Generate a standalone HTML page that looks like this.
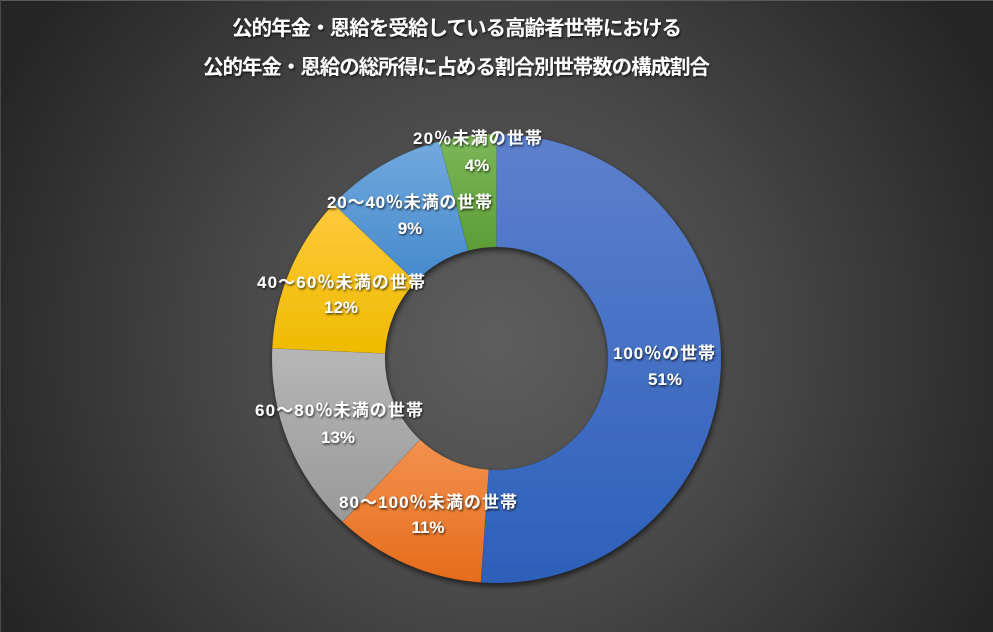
<!DOCTYPE html>
<html>
<head>
<meta charset="utf-8">
<style>
html,body{margin:0;padding:0;background:#262626;}
svg{display:block;}
</style>
</head>
<body>
<svg width="993" height="632" viewBox="0 0 993 632" xmlns="http://www.w3.org/2000/svg">
<defs>
  <radialGradient id="bg" cx="496" cy="340" r="560" gradientUnits="userSpaceOnUse">
    <stop offset="0" stop-color="#5e5e5e"/>
    <stop offset="0.45" stop-color="#494949"/>
    <stop offset="1" stop-color="#252525"/>
  </radialGradient>
  <linearGradient id="gBlue" x1="0" y1="0" x2="0" y2="1">
    <stop offset="0" stop-color="#5d80cd"/>
    <stop offset="1" stop-color="#2d60ba"/>
  </linearGradient>
  <linearGradient id="gOrange" x1="0" y1="0" x2="0" y2="1">
    <stop offset="0" stop-color="#f3914f"/>
    <stop offset="1" stop-color="#e56c1b"/>
  </linearGradient>
  <linearGradient id="gGray" x1="0" y1="0" x2="0" y2="1">
    <stop offset="0" stop-color="#b6b6b6"/>
    <stop offset="1" stop-color="#999999"/>
  </linearGradient>
  <linearGradient id="gYellow" x1="0" y1="0" x2="0" y2="1">
    <stop offset="0" stop-color="#ffc93c"/>
    <stop offset="1" stop-color="#efbb00"/>
  </linearGradient>
  <linearGradient id="gLBlue" x1="0" y1="0" x2="0" y2="1">
    <stop offset="0" stop-color="#72a9dd"/>
    <stop offset="1" stop-color="#4589cd"/>
  </linearGradient>
  <linearGradient id="gGreen" x1="0" y1="0" x2="0" y2="1">
    <stop offset="0" stop-color="#7cb758"/>
    <stop offset="1" stop-color="#5c9d37"/>
  </linearGradient>
  <filter id="shadow" x="-10%" y="-10%" width="120%" height="120%">
    <feGaussianBlur in="SourceAlpha" stdDeviation="3"/>
    <feOffset dx="1" dy="3" result="o"/>
    <feComponentTransfer><feFuncA type="linear" slope="0.6"/></feComponentTransfer>
    <feMerge><feMergeNode/><feMergeNode in="SourceGraphic"/></feMerge>
  </filter>
  <filter id="tshadow" x="-5%" y="-20%" width="110%" height="150%">
    <feGaussianBlur in="SourceAlpha" stdDeviation="1"/>
    <feOffset dx="1" dy="1.5" result="o"/>
    <feComponentTransfer><feFuncA type="linear" slope="0.7"/></feComponentTransfer>
    <feMerge><feMergeNode/><feMergeNode in="SourceGraphic"/></feMerge>
  </filter>
</defs>

<rect x="0" y="0" width="993" height="632" fill="url(#bg)"/>
<line x1="0" y1="0.5" x2="993" y2="0.5" stroke="#5a5a5a" stroke-width="1"/>
<line x1="0.5" y1="0" x2="0.5" y2="632" stroke="#4a4a4a" stroke-width="1"/>

<g filter="url(#tshadow)" font-family="'Liberation Sans','Noto Sans CJK JP',sans-serif" font-weight="bold" fill="#ffffff" font-size="20.5">
  <text x="232" y="35" textLength="450" lengthAdjust="spacing">公的年金・恩給を受給している高齢者世帯における</text>
  <text x="203" y="74" textLength="507" lengthAdjust="spacing">公的年金・恩給の総所得に占める割合別世帯数の構成割合</text>
</g>

<g filter="url(#shadow)" stroke="rgba(0,0,0,0.12)" stroke-width="0.6">
  <path fill="url(#gBlue)" d="M 496.5 134 A 224.5 224.5 0 1 1 480.84 582.45 L 488.72 469.73 A 111.5 111.5 0 1 0 496.5 247 Z"/>
  <path fill="url(#gOrange)" d="M 480.84 582.45 A 224.5 224.5 0 0 1 342.53 521.88 L 420.03 439.65 A 111.5 111.5 0 0 0 488.72 469.73 Z"/>
  <path fill="url(#gGray)" d="M 342.53 521.88 A 224.5 224.5 0 0 1 272.23 348.32 L 385.11 353.44 A 111.5 111.5 0 0 0 420.03 439.65 Z"/>
  <path fill="url(#gYellow)" d="M 272.23 348.32 A 224.5 224.5 0 0 1 333.65 203.97 L 415.62 281.75 A 111.5 111.5 0 0 0 385.11 353.44 Z"/>
  <path fill="url(#gLBlue)" d="M 333.65 203.97 A 224.5 224.5 0 0 1 439.53 141.35 L 468.21 250.65 A 111.5 111.5 0 0 0 415.62 281.75 Z"/>
  <path fill="url(#gGreen)" d="M 439.53 141.35 A 224.5 224.5 0 0 1 496.5 134 L 496.5 247 A 111.5 111.5 0 0 0 468.21 250.65 Z"/>
</g>

<g filter="url(#tshadow)" font-family="'Liberation Sans','Noto Sans CJK JP',sans-serif" font-weight="bold" fill="#ffffff" font-size="17">
  <text x="413" y="144" textLength="129" lengthAdjust="spacing">20％未満の世帯</text>
  <text x="477" y="171" text-anchor="middle">4%</text>

  <text x="327" y="208" textLength="165" lengthAdjust="spacing">20～40％未満の世帯</text>
  <text x="410" y="234" text-anchor="middle">9%</text>

  <text x="257" y="288" textLength="168" lengthAdjust="spacing">40～60％未満の世帯</text>
  <text x="341" y="313" text-anchor="middle">12%</text>

  <text x="255" y="416" textLength="168" lengthAdjust="spacing">60～80％未満の世帯</text>
  <text x="338" y="443" text-anchor="middle">13%</text>

  <text x="339" y="508" textLength="178" lengthAdjust="spacing">80～100％未満の世帯</text>
  <text x="428" y="533" text-anchor="middle">11%</text>

  <text x="613" y="359" textLength="102" lengthAdjust="spacing">100％の世帯</text>
  <text x="665" y="385" text-anchor="middle">51%</text>
</g>
</svg>
</body>
</html>
